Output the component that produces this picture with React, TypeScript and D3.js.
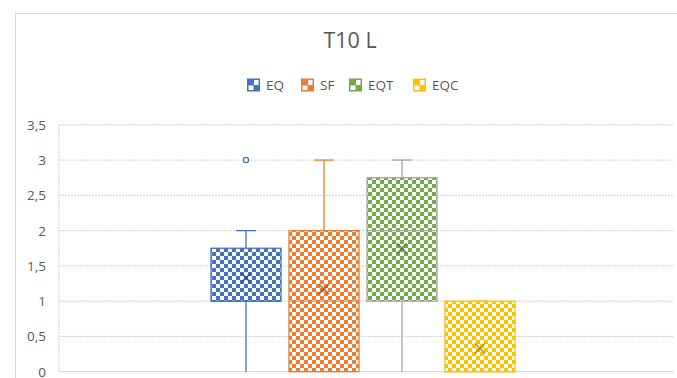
import React from "react";
import * as d3 from "d3";

const title = "T10 L";
const seriesNames = ["EQ", "SF", "EQT", "EQC"];
const fillColors = ["#4472C4", "#ED7D31", "#70AD47", "#FFC000"];
const strokeColors = ["#4472C4", "#ED7D31", "#A5A5A5", "#FFC000"];
const mins = [0, 0, 0, 0];
const q1s = [1, 0, 1, 0];
const medians = [1, 1, 2, 0];
const q3s = [1.75, 2, 2.75, 1];
const maxs = [2, 3, 3, 1];
const means = [1.33, 1.17, 1.75, 0.33];
const outliers: number[][] = [[3], [], [], []];
const yTicks = [0, 0.5, 1, 1.5, 2, 2.5, 3, 3.5];

const W = 677;
const H = 378;
const plotLeft = 59;
const plotRight = 674;
const plotTop = 124.8;
const plotBottom = 371.7;

export default function App() {
  const y = d3.scaleLinear().domain([0, 3.5]).range([plotBottom, plotTop]);
  const groupCenter = (plotLeft + plotRight) / 2 - 3.5;
  const x = d3
    .scaleBand<string>()
    .domain(seriesNames)
    .range([groupCenter - 156, groupCenter + 156])
    .paddingInner(0.1026)
    .paddingOuter(0.0513);
  const bw = x.bandwidth();
  const fmt = (v: number) => String(v).replace(".", ",");
  const font = "'Open Sans', sans-serif";

  const legendX = [247, 301, 349, 413];

  return (
    <svg width={W} height={H} style={{ position: "absolute", left: 0, top: 0, background: "#fff" }}>
      <defs>
        {seriesNames.map((s, i) => (
          <pattern key={s} id={`chk${i}`} patternUnits="userSpaceOnUse" width={8} height={8}>
            <rect width={8} height={8} fill="#fff" />
            <rect width={4} height={4} fill={fillColors[i]} />
            <rect x={4} y={4} width={4} height={4} fill={fillColors[i]} />
          </pattern>
        ))}
      </defs>
      <rect x={15.5} y={13.5} width={W} height={H} fill="#fff" stroke="#D9D9D9" strokeWidth={1} />
      <text x={350} y={47.5} textAnchor="middle" fontFamily={font} fontSize={21.5} fill="#595959">
        {title}
      </text>
      {seriesNames.map((s, i) => (
        <g key={s}>
          <rect x={legendX[i]} y={78.5} width={13} height={13} fill={fillColors[i]} />
          <rect x={legendX[i] + 7} y={80} width={4.5} height={5} fill="#fff" />
          <rect x={legendX[i] + 1.5} y={85.5} width={5} height={4.5} fill="#fff" />
          <text x={legendX[i] + 19} y={89.5} fontFamily={font} fontSize={13.5} fill="#595959">
            {s}
          </text>
        </g>
      ))}
      {yTicks.map((t) => (
        <g key={t}>
          <line
            x1={plotLeft}
            x2={plotRight}
            y1={y(t)}
            y2={y(t)}
            stroke="#D0D0D0"
            strokeWidth={1}
            strokeDasharray={t === 0 ? undefined : "2,1"}
          />
          <text x={46} y={y(t) + 5} textAnchor="end" fontFamily={font} fontSize={13.5} fill="#595959">
            {fmt(t)}
          </text>
        </g>
      ))}
      <line x1={plotLeft} x2={plotLeft} y1={plotTop} y2={plotBottom} stroke="#D0D0D0" strokeDasharray="2,1" />
      {seriesNames.map((s, i) => {
        const x0 = x(s)!;
        const cx = x0 + bw / 2;
        const cap = 10;
        return (
          <g key={s}>
            <line x1={cx} x2={cx} y1={y(q3s[i])} y2={y(maxs[i])} stroke={strokeColors[i]} strokeWidth={1.3} />
            <line x1={cx} x2={cx} y1={y(q1s[i])} y2={y(mins[i])} stroke={strokeColors[i]} strokeWidth={1.3} />
            <line x1={cx - cap} x2={cx + cap} y1={y(maxs[i])} y2={y(maxs[i])} stroke={strokeColors[i]} strokeWidth={1.3} />
            <rect
              x={x0}
              y={y(q3s[i])}
              width={bw}
              height={y(q1s[i]) - y(q3s[i])}
              fill={`url(#chk${i})`}
              stroke={strokeColors[i]}
              strokeWidth={1.3}
            />
            <line x1={x0} x2={x0 + bw} y1={y(medians[i])} y2={y(medians[i])} stroke={strokeColors[i]} strokeWidth={1.3} />
            <g stroke={d3.color(fillColors[i])!.darker(1.1).formatHex()} strokeWidth={1.6} opacity={0.8}>
              <line x1={cx - 5} x2={cx + 5} y1={y(means[i]) - 5} y2={y(means[i]) + 5} />
              <line x1={cx - 5} x2={cx + 5} y1={y(means[i]) + 5} y2={y(means[i]) - 5} />
            </g>
            {outliers[i].map((o, j) => (
              <circle key={j} cx={cx} cy={y(o)} r={2.6} fill="#fff" stroke={strokeColors[i]} strokeWidth={1.3} />
            ))}
          </g>
        );
      })}
    </svg>
  );
}
